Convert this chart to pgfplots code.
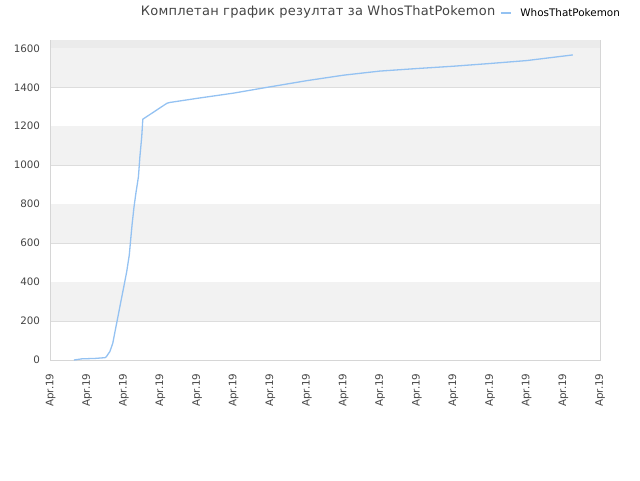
\documentclass[border=0pt]{standalone}
\usepackage{fontspec}
\setmainfont{DejaVu Sans}
\usepackage{pgfplots}
\pgfplotsset{compat=1.18}
\definecolor{band}{HTML}{F2F2F2}
\definecolor{bandtop}{HTML}{EBEBEB}
\definecolor{gridc}{HTML}{DDDDDD}
\definecolor{axisc}{HTML}{D6D6D6}
\definecolor{linec}{HTML}{94C2F2}
\definecolor{txt}{HTML}{444444}
\begin{document}
\begin{tikzpicture}[x=1pt,y=1pt]
\useasboundingbox (0,0) rectangle (640,480);
\begin{axis}[
  at={(50.5pt,120pt)}, anchor=south west,
  width=549.5pt, height=319.5pt, scale only axis,
  xmin=0, xmax=15, ymin=0, ymax=1640,
  xtick={0,...,15},
  xticklabels={Apr.19,Apr.19,Apr.19,Apr.19,Apr.19,Apr.19,Apr.19,Apr.19,Apr.19,Apr.19,Apr.19,Apr.19,Apr.19,Apr.19,Apr.19,Apr.19},
  x tick label style={rotate=90, anchor=east, font=\fontsize{10.3}{11}\selectfont, text=txt},
  ytick={0,200,...,1600},
  y tick label style={font=\fontsize{10.3}{11}\selectfont, text=txt},
  /pgf/number format/assume math mode=true,
  /pgf/number format/1000 sep={},
  major tick length=0pt,
  xticklabel shift=10pt, yticklabel shift=7pt,
  ymajorgrids, grid style={gridc, line width=0.8pt},
  axis line style={axisc, line width=0.8pt},
  every axis title shift=0pt,
  title={\color{txt}\addfontfeatures{LetterSpace=2}Комплетан график резултат за WhosThatPokemon},
  title style={at={(rel axis cs:0.487,1.089)}, anchor=center, font=\fontsize{13}{15}\selectfont},
  legend style={at={(rel axis cs:0.8172,1.086)}, anchor=west, draw=none, fill=none,
    font=\fontsize{10.4}{12}\selectfont, inner sep=0pt},
  legend image code/.code={\draw[#1, line width=2pt] (0pt,0pt) -- (10pt,0pt); \path (17pt,0pt);},
]
\fill[band] (axis cs:0,200) rectangle (axis cs:15,400);
\fill[band] (axis cs:0,600) rectangle (axis cs:15,800);
\fill[band] (axis cs:0,1000) rectangle (axis cs:15,1200);
\fill[band] (axis cs:0,1400) rectangle (axis cs:15,1600);
\fill[bandtop] (axis cs:0,1600) rectangle (axis cs:15,1640);
\addplot[linec, line width=1.3pt, mark=none] coordinates {
(0.64,0) (0.86,6) (1.21,8) (1.49,12) (1.53,18) (1.57,30) (1.62,43)
(1.70,86) (1.76,145) (1.85,231) (1.92,299) (2.01,385) (2.08,453)
(2.15,538) (2.20,641) (2.23,701) (2.28,786) (2.33,855) (2.40,940)
(2.44,1043) (2.49,1145) (2.52,1236) (3.18,1318) (3.26,1322)
(4.00,1343) (5.00,1370) (5.80,1396) (7.00,1434) (8.00,1462) (8.99,1483)
(10.00,1496) (11.00,1508) (12.00,1522) (13.00,1537) (14.26,1566)
};
\addlegendentry{WhosThatPokemon}
\end{axis}
\end{tikzpicture}
\end{document}
